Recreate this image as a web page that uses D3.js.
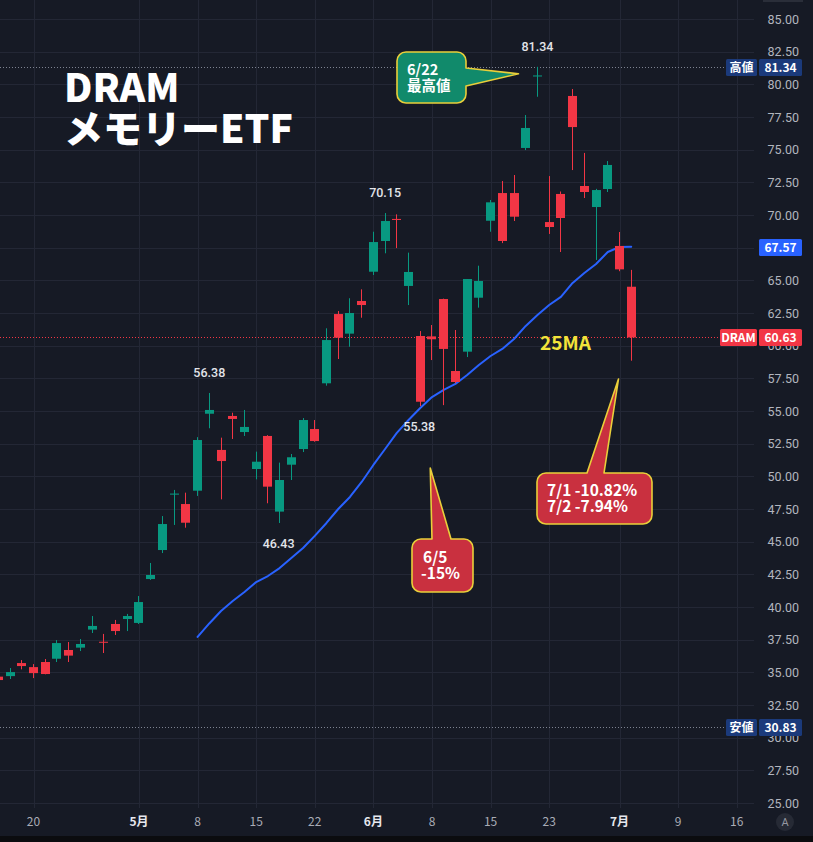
<!DOCTYPE html>
<html>
<head>
<meta charset="utf-8">
<script src="https://cdn.jsdelivr.net/npm/d3@7"></script>
<style>
  html, body { margin: 0; padding: 0; background: #161a25; }
  svg { display: block; }
</style>
</head>
<body>
<svg id="chart" width="813" height="842"></svg>
<script>
// ---- data (daily bars 2026) ----
const DATES = [
  '4/15','4/16','4/17','4/20','4/21','4/22','4/23','4/24','4/27','4/28','4/29','4/30',
  '5/1','5/4','5/5','5/6','5/7','5/8','5/11','5/12','5/13','5/14','5/15','5/18','5/19','5/20','5/21','5/22','5/26','5/27','5/28','5/29',
  '6/1','6/2','6/3','6/4','6/5','6/8','6/9','6/10','6/11','6/12','6/15','6/16','6/17','6/18','6/22','6/23','6/24','6/25','6/26','6/29','6/30',
  '7/1','7/2'
];
const OPEN = [
  34.67,34.71,35.71,35.40,35.79,36.04,36.71,36.89,38.27,37.34,38.70,39.08,
  38.78,42.14,44.36,48.60,47.88,48.90,54.79,52.02,54.62,53.39,50.56,53.09,47.30,50.89,52.09,53.62,57.12,62.42,60.92,63.42,
  65.66,68.01,69.70,64.57,60.74,60.71,63.57,58.06,59.54,63.67,69.56,71.68,71.68,75.13,80.60,69.46,71.61,79.11,72.22,70.61,71.99,
  67.63,64.51
];
const HIGH = [
  34.80,35.33,35.94,35.63,36.02,37.47,37.32,37.55,39.31,37.94,39.01,39.47,
  40.84,43.37,46.96,48.96,48.75,53.00,56.38,52.96,54.87,55.08,51.89,53.15,51.05,51.71,54.46,54.31,61.33,62.65,63.63,64.31,
  68.72,70.15,70.05,67.12,61.12,61.58,63.60,61.20,65.10,66.12,71.15,72.60,73.06,77.65,81.34,72.98,71.80,79.64,74.75,72.00,74.13,
  68.70,65.80
];
const LOW = [
  34.35,34.49,35.23,34.56,34.85,35.79,35.79,36.63,38.01,36.48,37.86,38.16,
  38.70,42.07,44.13,46.28,46.07,48.50,53.68,48.24,52.86,53.09,49.77,47.94,46.43,49.72,51.86,52.65,56.94,58.98,59.92,62.14,
  65.41,67.07,67.47,63.11,55.38,58.90,55.45,57.12,59.13,62.91,68.72,67.85,69.54,74.97,79.05,68.55,67.17,73.44,71.30,66.56,71.76,
  65.70,58.85
];
const CLOSE = [
  34.41,35.02,35.48,34.94,34.87,37.24,36.28,37.17,38.55,37.30,38.16,39.31,
  40.38,42.45,46.35,48.68,46.45,52.78,55.08,51.17,54.39,53.78,51.12,49.21,49.72,51.46,54.31,52.70,60.43,60.61,62.50,63.11,
  67.93,69.54,69.62,65.64,55.71,60.49,59.75,57.22,65.10,64.95,70.97,68.01,69.87,76.66,80.68,69.08,69.77,76.73,71.76,71.91,73.83,
  65.84,60.63
];

// 25-day moving average, first value on 5/8
const MA_START = '5/8';
const MA25 = [
  37.71,38.74,39.69,40.46,41.15,41.91,42.37,42.98,43.75,44.52,45.44,46.43,47.50,48.42,49.57,
  50.87,52.09,53.32,54.31,55.23,56.07,56.61,57.07,57.76,58.52,59.21,59.75,60.51,61.51,62.35,63.11,63.73,64.80,65.56,66.25,67.17,
  67.55,67.57
];

// time axis slots (trading days, incl. empty future space)
const AXIS_DATES = DATES.concat(['7/6','7/7','7/8','7/9','7/10','7/13','7/14','7/15','7/16','7/17','7/20']);
const X_TICK_DATES  = ['4/20','5/1','5/8','5/15','5/22','6/1','6/8','6/15','6/23','7/1','7/9','7/16'];
const X_TICK_LABELS = ['20','5月','8','15','22','6月','8','15','23','7月','9','16'];
const Y_TICKS = [25,27.5,30,32.5,35,37.5,40,42.5,45,47.5,50,52.5,55,57.5,60,62.5,65,67.5,70,72.5,75,77.5,80,82.5,85];

const HIGH_LABELS = ['5/11','6/2','6/22'];   // value printed above the bar
const LOW_LABELS  = ['5/19','6/5'];          // value printed below the bar

const ALL_HIGH = 81.34, ALL_LOW = 30.83, LAST = 60.63, MA_LAST = 67.57;

// ---- setup ----
const W = 813, H = 842;
const BG = '#161a25', GRID = '#232735', UP = '#089981', DOWN = '#f23645';
const svg = d3.select('#chart');
const FONT = 'Roboto, "Noto Sans", sans-serif';
const JP = '"Noto Sans CJK JP", "Noto Sans", sans-serif';

const x = d3.scalePoint().domain(AXIS_DATES).range([-1.66, -1.66 + 11.72 * (AXIS_DATES.length - 1)]);
const y = d3.scaleLinear().domain([25, 85]).range([803, 19]);

const bars = DATES.map((d, i) => ({ date: d, o: OPEN[i], h: HIGH[i], l: LOW[i], c: CLOSE[i] }));
const maData = MA25.map((v, i) => ({ date: DATES[DATES.indexOf(MA_START) + i], v }));

svg.append('rect').attr('width', W).attr('height', H).attr('fill', BG);
svg.append('rect').attr('y', 836).attr('width', W).attr('height', 6).attr('fill', '#0b0c0f');
svg.append('rect').attr('x', 763).attr('y', 0).attr('width', 40).attr('height', 2).attr('fill', '#2a2e39');

// grid
const grid = svg.append('g').attr('class', 'grid');
grid.selectAll('.hgrid').data(Y_TICKS).enter().append('line')
  .attr('x1', 0).attr('x2', 754)
  .attr('y1', d => Math.round(y(d)) + 0.5).attr('y2', d => Math.round(y(d)) + 0.5)
  .attr('stroke', GRID).attr('stroke-width', 1);
grid.selectAll('.vgrid').data(X_TICK_DATES).enter().append('line')
  .attr('x1', d => Math.round(x(d)) + 0.5).attr('x2', d => Math.round(x(d)) + 0.5)
  .attr('y1', 0).attr('y2', 808)
  .attr('stroke', GRID).attr('stroke-width', 1);

// dotted price lines
const priceLine = (v, x2, color) => svg.append('line')
  .attr('x1', 0).attr('x2', x2)
  .attr('y1', Math.round(y(v)) + 0.5).attr('y2', Math.round(y(v)) + 0.5)
  .attr('stroke', color).attr('stroke-width', 1).attr('stroke-dasharray', '1 2');
priceLine(ALL_HIGH, 726, '#7d8290');
priceLine(ALL_LOW, 726, '#7d8290');
priceLine(LAST, 720, DOWN);

// moving average
svg.append('path').datum(maData)
  .attr('d', d3.line().x(d => x(d.date)).y(d => y(d.v)))
  .attr('fill', 'none').attr('stroke', '#2962ff').attr('stroke-width', 2)
  .attr('stroke-linejoin', 'round').attr('stroke-linecap', 'round');

// candles
const candles = svg.append('g').attr('class', 'candles')
  .selectAll('g').data(bars).enter().append('g')
  .attr('fill', d => d.c >= d.o ? UP : DOWN);
candles.append('rect')
  .attr('x', d => Math.round(x(d.date) - 4.5) + 4)
  .attr('width', 1)
  .attr('y', d => y(d.h))
  .attr('height', d => Math.max(1, y(d.l) - y(d.h)));
candles.append('rect')
  .attr('x', d => Math.round(x(d.date) - 4.5))
  .attr('width', 9)
  .attr('y', d => y(Math.max(d.o, d.c)))
  .attr('height', d => Math.max(1, Math.abs(y(d.o) - y(d.c))));

// high / low value labels
const valLabels = svg.append('g').attr('font-family', FONT).attr('font-size', 12.5)
  .attr('font-weight', 500).attr('fill', '#e3e5ea').attr('text-anchor', 'middle');
bars.filter(d => HIGH_LABELS.includes(d.date)).forEach(d => {
  valLabels.append('text').attr('x', x(d.date)).attr('y', y(d.h) - 16).text(d.h.toFixed(2));
});
bars.filter(d => LOW_LABELS.includes(d.date)).forEach(d => {
  valLabels.append('text').attr('x', x(d.date) - 1).attr('y', y(d.l) + 25).text(d.l.toFixed(2));
});

// callouts
function callout(box, ptr, fill) {
  const [x0, y0, x1, y1] = box, r = 9;
  const p = d3.path();
  p.moveTo(x0 + r, y0);
  if (ptr.side === 'top') {
    p.lineTo(ptr.a, y0); p.lineTo(ptr.tip[0], ptr.tip[1]); p.lineTo(ptr.b, y0);
  }
  p.lineTo(x1 - r, y0);
  p.arcTo(x1, y0, x1, y0 + r, r);
  if (ptr.side === 'right') {
    p.lineTo(x1, ptr.a); p.lineTo(ptr.tip[0], ptr.tip[1]); p.lineTo(x1, ptr.b);
  }
  p.lineTo(x1, y1 - r);
  p.arcTo(x1, y1, x1 - r, y1, r);
  p.lineTo(x0 + r, y1);
  p.arcTo(x0, y1, x0, y1 - r, r);
  p.lineTo(x0, y0 + r);
  p.arcTo(x0, y0, x0 + r, y0, r);
  p.closePath();
  svg.append('path').attr('d', p.toString())
    .attr('fill', fill).attr('stroke', '#e9cf3a').attr('stroke-width', 1.6)
    .attr('stroke-linejoin', 'round');
}
function calloutText(lines, xs, y0, size, dy) {
  lines.forEach((s, i) => svg.append('text')
    .attr('x', xs[i]).attr('y', y0 + i * dy)
    .attr('font-family', JP).attr('font-weight', 700)
    .attr('font-size', size).attr('fill', '#ffffff').text(s));
}

callout([397, 52, 466, 103], { side: 'right', a: 68, b: 86, tip: [x('6/22') - 19, y(ALL_HIGH) + 7] }, '#118a6b');
calloutText(['6/22', '最高値'], [407, 407], 75, 14.5, 16);

callout([412, 539, 473, 592], { side: 'top', a: 432, b: 451, tip: [x('6/5') + 10, 468] }, '#c9303f');
calloutText(['6/5', '-15%'], [423, 421], 563, 15.5, 16);

callout([537, 473, 652, 524], { side: 'top', a: 587, b: 604, tip: [x('7/1') - 1, 379] }, '#c9303f');
calloutText(['7/1 -10.82%', '7/2 -7.94%'], [547, 547], 496, 15.5, 16);

// title
const title = svg.append('g').attr('font-family', JP).attr('font-weight', 900)
  .attr('font-size', 39).attr('fill', '#ffffff');
title.append('text').attr('x', 64).attr('y', 102).text('DRAM');
title.append('text').attr('x', 64).attr('y', 143).text('メモリーETF');

svg.append('text').attr('x', 540).attr('y', 350)
  .attr('font-family', JP).attr('font-weight', 700).attr('font-size', 19)
  .attr('fill', '#f3e43a').text('25MA');

// price axis (labels hidden where a price badge sits on them)
const badgeValues = [ALL_HIGH, ALL_LOW, LAST, MA_LAST];
const yAxis = svg.append('g').attr('font-family', FONT).attr('font-size', 12.5)
  .attr('fill', '#b2b5be').attr('text-anchor', 'end');
Y_TICKS.filter(v => badgeValues.every(b => Math.abs(y(b) - y(v)) > 6)).forEach(v => {
  yAxis.append('text').attr('x', 799).attr('y', y(v) + 4.5).text(d3.format('.2f')(v));
});

// time axis
const xAxis = svg.append('g').attr('font-family', JP).attr('font-size', 12)
  .attr('text-anchor', 'middle');
X_TICK_DATES.forEach((d, i) => {
  const isMonth = X_TICK_LABELS[i].includes('月');
  xAxis.append('text').attr('x', x(d)).attr('y', 826)
    .attr('fill', isMonth ? '#e6e8ee' : '#a9acb6')
    .attr('font-weight', isMonth ? 700 : 400)
    .text(X_TICK_LABELS[i]);
});
svg.append('circle').attr('cx', 785).attr('cy', 822).attr('r', 9).attr('fill', '#262a35');
svg.append('text').attr('x', 785).attr('y', 826).attr('text-anchor', 'middle')
  .attr('font-family', FONT).attr('font-size', 11).attr('fill', '#9598a1').text('A');

// price badges
function badge(v, name, color) {
  const cy = Math.round(y(v));
  const g = svg.append('g').attr('font-family', JP).attr('font-size', 12).attr('font-weight', 700).attr('fill', '#ffffff');
  g.append('rect').attr('x', 759).attr('y', cy - 8).attr('width', 43).attr('height', 17).attr('rx', 1.5).attr('fill', color);
  g.append('text').attr('x', 780.5).attr('y', cy + 4.5).attr('text-anchor', 'middle').text(v.toFixed(2));
  if (name) {
    const w = name.length > 2 ? 37 : 31;
    g.append('rect').attr('x', 757 - w).attr('y', cy - 8).attr('width', w).attr('height', 17).attr('rx', 1.5).attr('fill', color);
    g.append('text').attr('x', 757 - w / 2).attr('y', cy + 4.5).attr('text-anchor', 'middle').text(name);
  }
}
badge(ALL_HIGH, '高値', '#1b3a7b');
badge(ALL_LOW, '安値', '#1b3a7b');
badge(MA_LAST, null, '#2962ff');
badge(LAST, 'DRAM', DOWN);
</script>
</body>
</html>
